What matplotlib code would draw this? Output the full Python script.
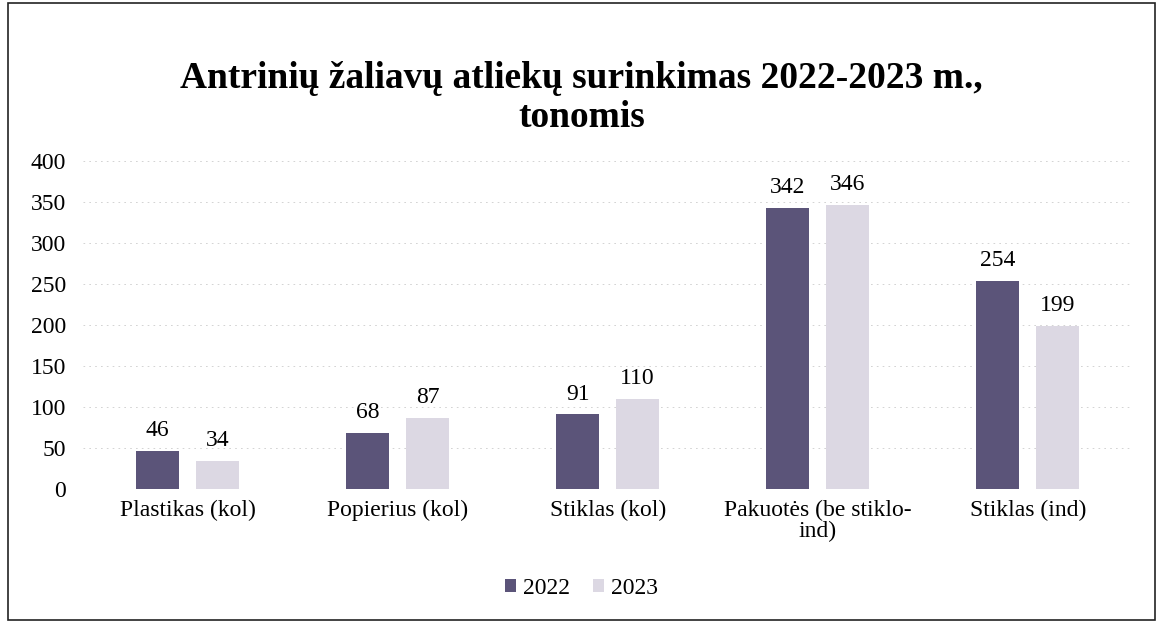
import matplotlib.pyplot as plt
import numpy as np
from matplotlib.patches import Rectangle

plt.rcParams['font.family'] = ['Liberation Serif', 'DejaVu Serif']

categories = ['Plastikas (kol)', 'Popierius (kol)', 'Stiklas (kol)',
              'Pakuotės (be stiklo-\nind)', 'Stiklas (ind)']
vals_2022 = [46, 68, 91, 342, 254]
vals_2023 = [34, 87, 110, 346, 199]

fig = plt.figure(figsize=(11.63, 6.23), dpi=100)
ax = fig.add_axes([0.071, 0.215, 0.903, 0.527])

x = np.arange(len(categories))
w = 0.205
off = 0.143
b1 = ax.bar(x - off, vals_2022, w, color='#5b5479', label='2022')
b2 = ax.bar(x + off, vals_2023, w, color='#dcd8e3', label='2023')

for bars in (b1, b2):
    for r in bars:
        ax.text(r.get_x() + r.get_width() / 2, r.get_height() + 12,
                str(int(r.get_height())), ha='center', va='bottom', fontsize=17)

ax.set_ylim(0, 400)
ax.set_xlim(-0.5, len(categories) - 0.5)
ax.set_yticks(range(0, 401, 50))
ax.set_xticks(x)
ax.set_xticklabels(categories, fontsize=17, linespacing=0.95)
ax.tick_params(axis='y', labelsize=17, length=0, pad=12)
ax.tick_params(axis='x', length=0, pad=8)
ax.yaxis.grid(True, color='#cccccc', linestyle=(0, (2, 5)), linewidth=0.6)
ax.set_axisbelow(True)
for s in ax.spines.values():
    s.set_visible(False)

fig.text(0.5, 0.843, 'Antrinių žaliavų atliekų surinkimas 2022-2023 m.,\ntonomis',
         ha='center', va='center', fontsize=27, fontweight='bold', linespacing=1.15)

fig.legend(handles=[b1, b2], loc='center', bbox_to_anchor=(0.5, 0.056),
           ncol=2, frameon=False, fontsize=17, handlelength=0.45, handleheight=0.45,
           handletextpad=0.3, columnspacing=1.0)

fig.patches.append(Rectangle((0.007, 0.005), 0.986, 0.99, transform=fig.transFigure,
                             fill=False, edgecolor='#222222', linewidth=1.2))

fig.savefig('out.png', dpi=100)
